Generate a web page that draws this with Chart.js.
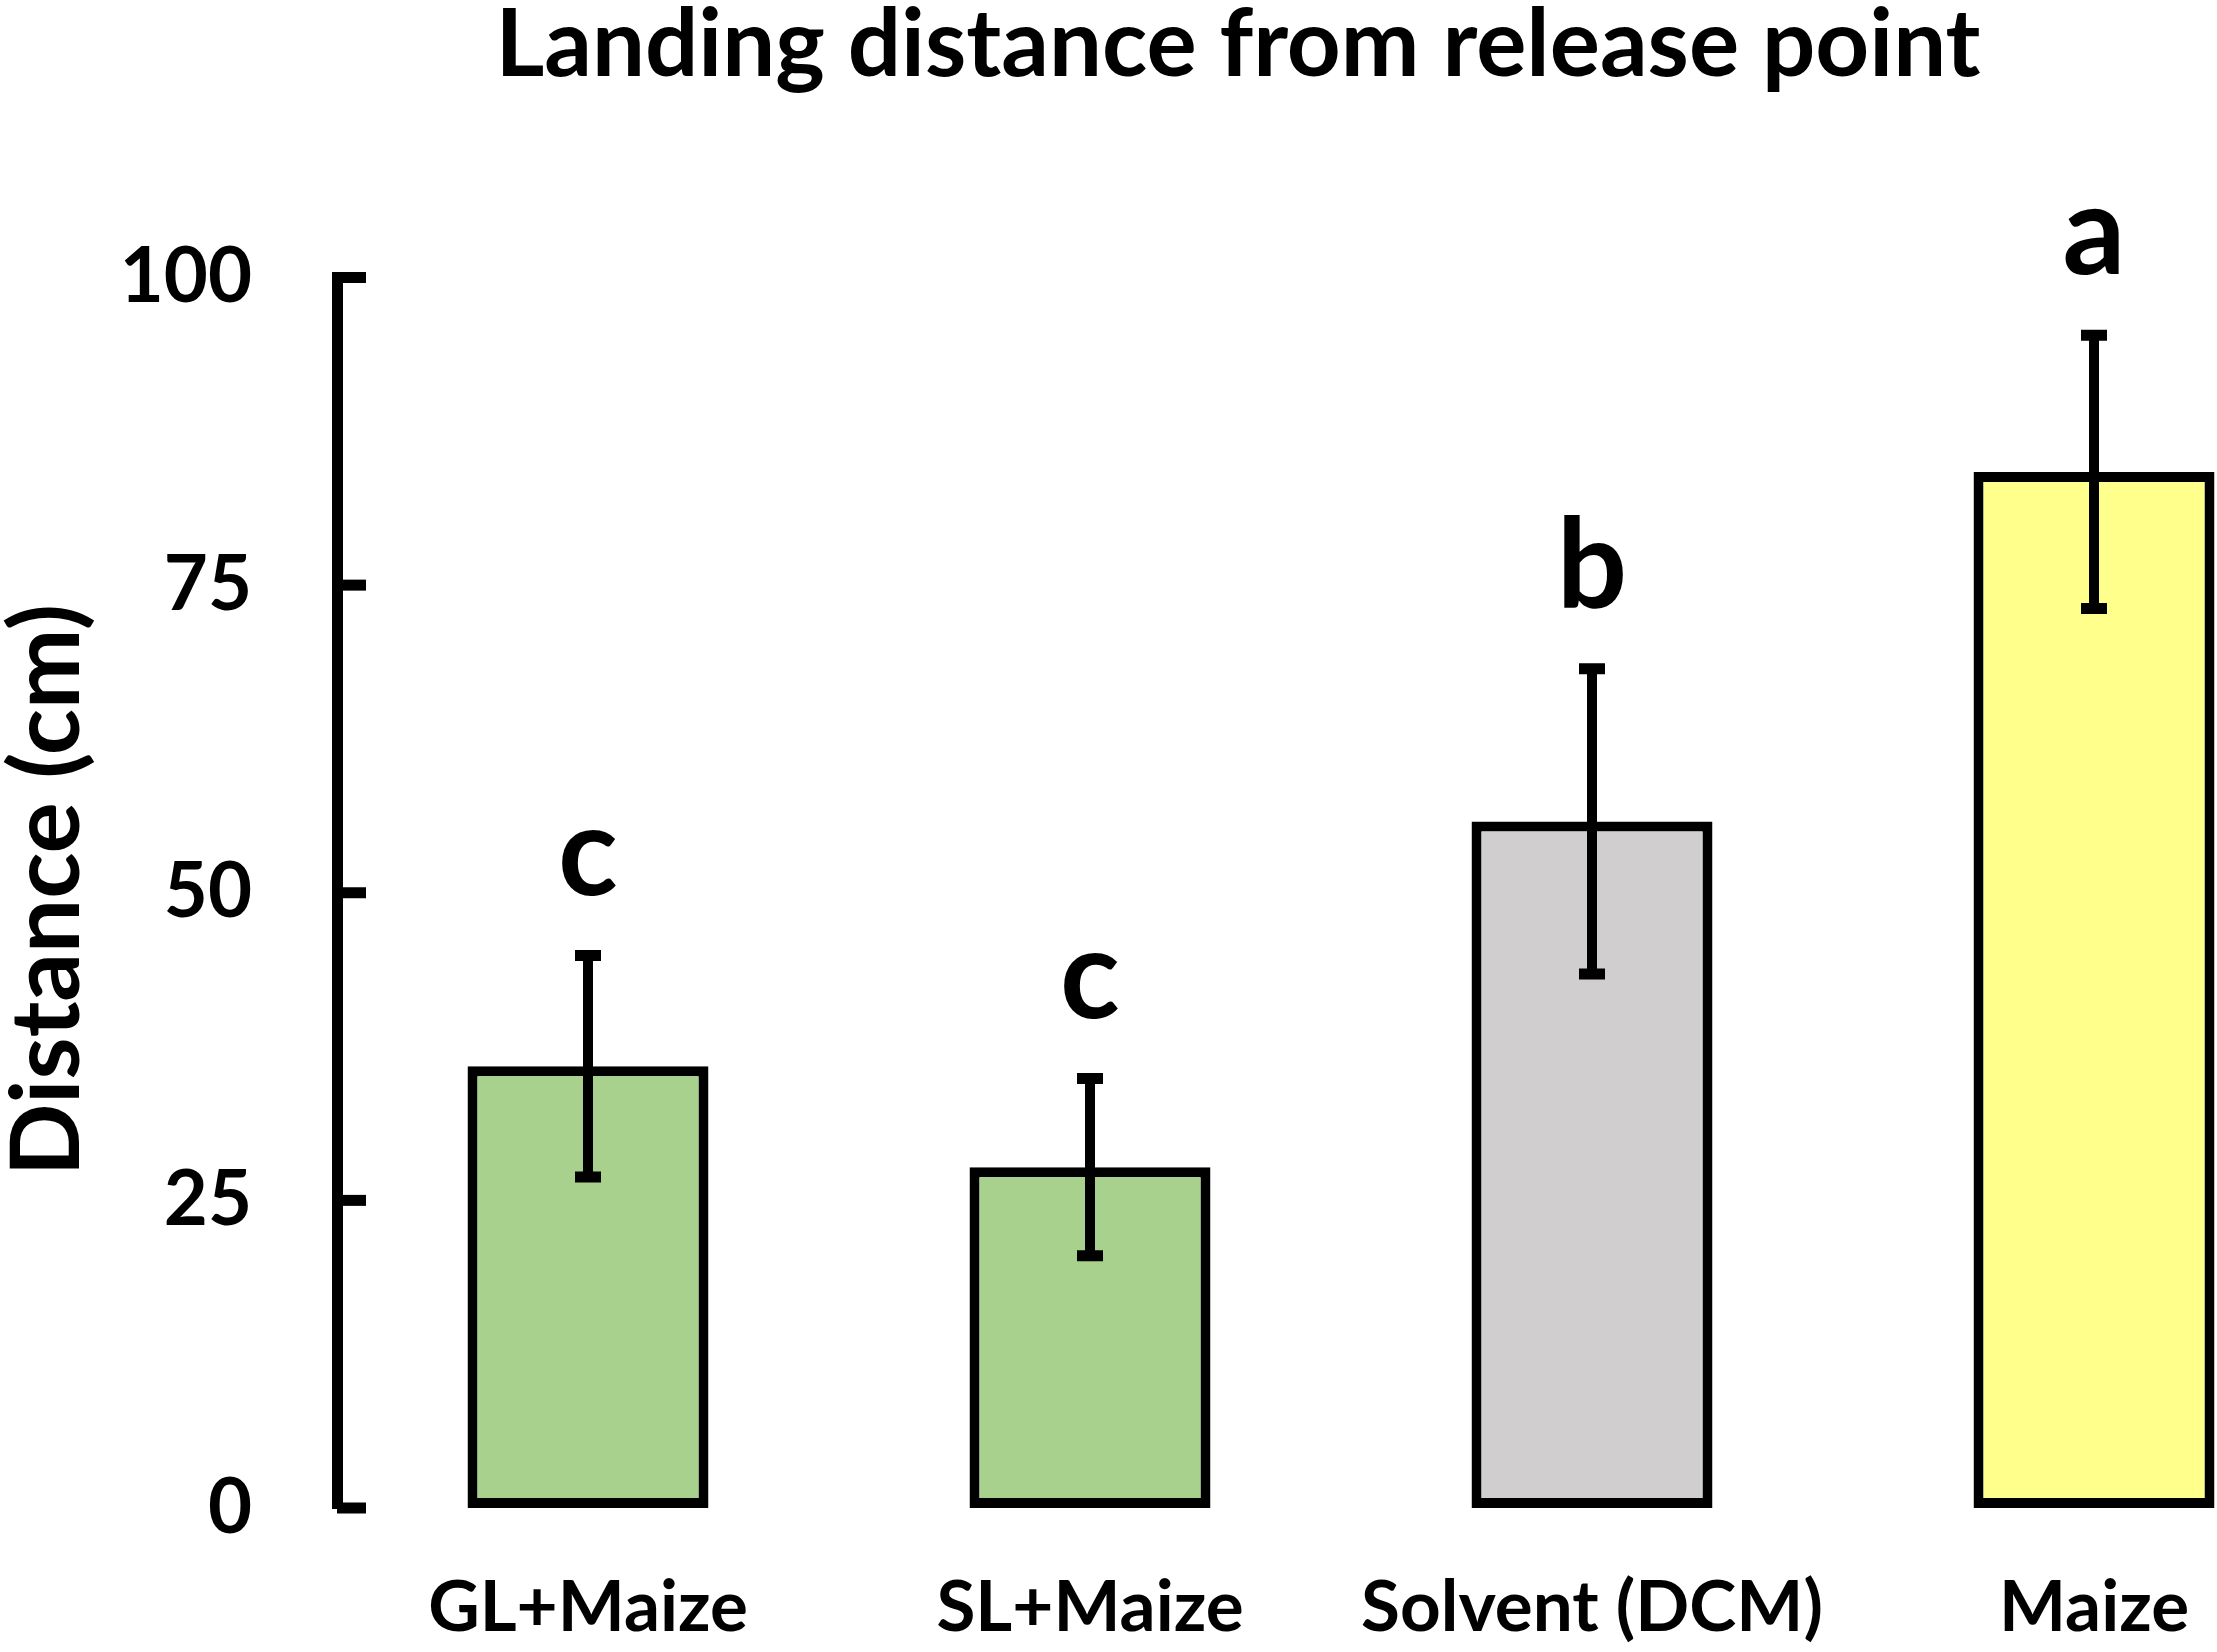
<!DOCTYPE html>
<html>
<head>
<meta charset="utf-8">
<title>Landing distance from release point</title>
<script src="https://cdn.jsdelivr.net/npm/chart.js@4.4.1/dist/chart.umd.min.js"></script>
<style>
  html, body { margin: 0; padding: 0; background: #fff; overflow: hidden; }
  #wrap { width: 2217px; height: 1652px; }
</style>
</head>
<body>
<div id="wrap"><canvas id="chart" width="2217" height="1652"></canvas></div>
<script>
// data (means and standard errors, cm)
const categories = ["GL+Maize", "SL+Maize", "Solvent (DCM)", "Maize"];
const meanDistance = [35.9, 27.7, 55.8, 84.2];
const errDistance = [9.0, 7.2, 12.4, 11.1];
const letters = ["c", "c", "b", "a"];
const yTicks = [0, 25, 50, 75, 100];

const barColors = ["#a9d18e", "#a9d18e", "#d0cece", "#ffff8b"];
const FONT = "Lato";

// error bars, inward tick marks, letters and titles
const extras = {
  id: "extras",
  afterDatasetsDraw(chart) {
    const ctx = chart.ctx;
    const y = chart.scales.y;
    const area = chart.chartArea;
    const bars = chart.getDatasetMeta(0).data;
    ctx.save();
    ctx.strokeStyle = "#000";
    ctx.fillStyle = "#000";
    ctx.lineCap = "butt";

    ctx.lineWidth = 11;
    y.ticks.forEach(t => {
      const py = y.getPixelForValue(t.value);
      ctx.beginPath();
      ctx.moveTo(area.left, py);
      ctx.lineTo(area.left + 29, py);
      ctx.stroke();
    });

    bars.forEach((bar, i) => {
      const top = y.getPixelForValue(meanDistance[i] + errDistance[i]);
      const bot = y.getPixelForValue(meanDistance[i] - errDistance[i]);
      ctx.lineWidth = 10;
      ctx.beginPath();
      ctx.moveTo(bar.x, top);
      ctx.lineTo(bar.x, bot);
      ctx.stroke();
      ctx.lineWidth = 11;
      ctx.beginPath();
      ctx.moveTo(bar.x - 13, top);
      ctx.lineTo(bar.x + 13, top);
      ctx.moveTo(bar.x - 13, bot);
      ctx.lineTo(bar.x + 13, bot);
      ctx.stroke();

      ctx.font = "bold 124px " + FONT;
      ctx.textAlign = "center";
      ctx.textBaseline = "alphabetic";
      ctx.fillText(letters[i], bar.x, top - 61);
    });

    ctx.font = "bold 94px " + FONT;
    ctx.textAlign = "center";
    ctx.textBaseline = "alphabetic";
    ctx.fillText("Landing distance from release point", 1238, 76);

    ctx.translate(48, 890);
    ctx.rotate(-Math.PI / 2);
    ctx.font = "bold 96px " + FONT;
    ctx.textBaseline = "middle";
    ctx.fillText("Distance (cm)", 0, 0);
    ctx.restore();
  }
};

const ctx = document.getElementById("chart");
new Chart(ctx, {
  type: "bar",
  data: {
    datasets: [{
      data: meanDistance.map((v, i) => ({ x: i, y: v })),
      backgroundColor: barColors,
      borderColor: "#000",
      borderWidth: 10,
      borderSkipped: false,
      categoryPercentage: 1,
      barPercentage: 0.48
    }]
  },
  options: {
    responsive: false,
    devicePixelRatio: 1,
    animation: false,
    layout: { padding: { top: 277.5, left: 0, right: 0, bottom: 0 } },
    plugins: {
      legend: { display: false },
      tooltip: { enabled: false },
      title: { display: false }
    },
    scales: {
      x: {
        type: "linear",
        offset: false,
        min: -0.5,
        max: 3.245,
        grid: { display: true, drawOnChartArea: false, drawTicks: true, tickLength: 58, tickColor: "rgba(0,0,0,0)" },
        border: { display: false },
        afterBuildTicks: scale => {
          scale.ticks = categories.map((c, i) => ({ value: i }));
        },
        afterFit: scale => { scale.height = 144; },
        ticks: {
          padding: 0,
          color: "#000",
          font: { family: FONT, weight: "bold", size: 71 },
          callback: (value) => categories[value]
        }
      },
      y: {
        min: 0,
        max: 100,
        grid: { display: false },
        border: { display: true, color: "#000", width: 11 },
        afterBuildTicks: scale => {
          scale.ticks = yTicks.map(v => ({ value: v }));
        },
        afterFit: scale => { scale.width = 337; },
        ticks: {
          padding: 77,
          color: "#000",
          font: { family: FONT, weight: "bold", size: 76 }
        }
      }
    }
  },
  plugins: [extras]
});
</script>
</body>
</html>
